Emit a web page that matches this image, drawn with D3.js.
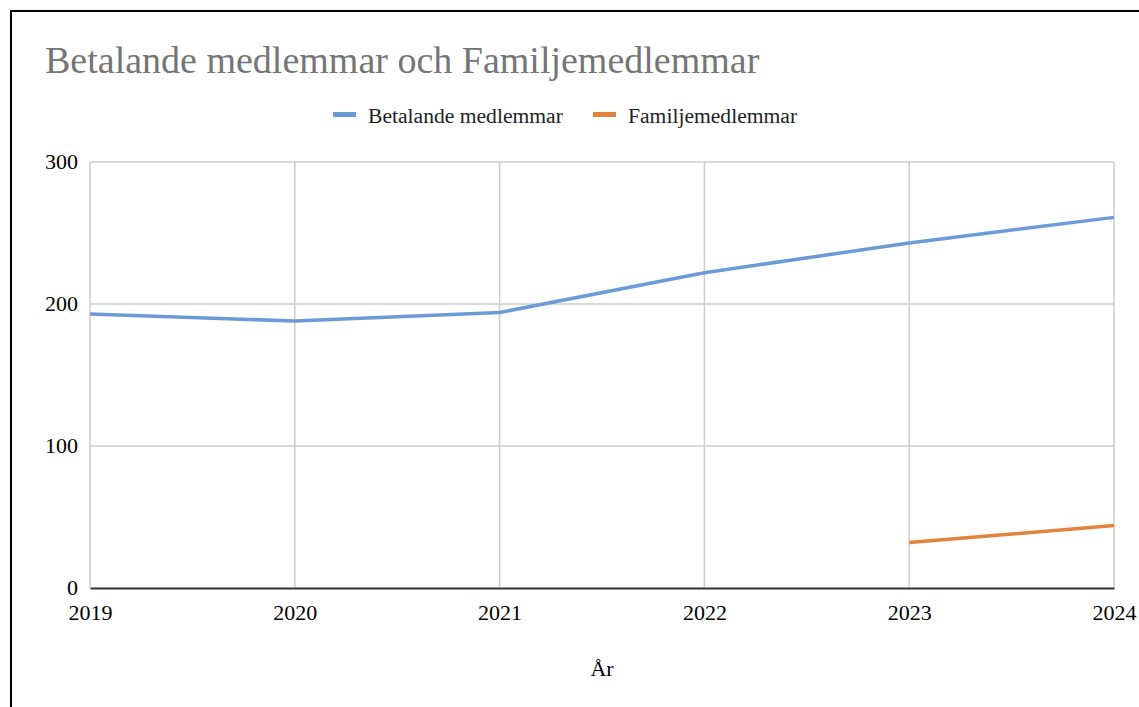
<!DOCTYPE html>
<html>
<head>
<meta charset="utf-8">
<script src="https://cdn.jsdelivr.net/npm/d3@7"></script>
<style>
  body { margin: 0; background: #fff; }
  svg { display: block; }
  text { font-family: "Liberation Serif", "Times New Roman", serif; }
</style>
</head>
<body>
<div id="chart"></div>
<script>
var svgWidth = 1139;
var svgHeight = 707;

var margin = {
  top: 162,
  right: 25,
  bottom: 119,
  left: 90
};

var width = svgWidth - margin.left - margin.right;
var height = svgHeight - margin.top - margin.bottom;

// data
var years = [2019, 2020, 2021, 2022, 2023, 2024];
var betalande = [193, 188, 194, 222, 243, 261];
var familje = [null, null, null, null, 32, 44];
var yTicks = [0, 100, 200, 300];

var seriesNames = ["Betalande medlemmar", "Familjemedlemmar"];
var seriesColors = ["#6b9bd7", "#e2823b"];

var svg = d3
  .select("#chart")
  .append("svg")
  .attr("width", svgWidth)
  .attr("height", svgHeight);

// outer frame (cut off at right and bottom in the screenshot)
svg.append("rect")
  .attr("x", 11)
  .attr("y", 11)
  .attr("width", 1300)
  .attr("height", 900)
  .attr("fill", "none")
  .attr("stroke", "#000")
  .attr("stroke-width", 2);

// title
svg.append("text")
  .attr("x", 45)
  .attr("y", 73)
  .attr("fill", "#757575")
  .style("font-size", "38px")
  .text("Betalande medlemmar och Familjemedlemmar");

// legend
var legendItems = [
  { name: seriesNames[0], color: seriesColors[0], x: 333 },
  { name: seriesNames[1], color: seriesColors[1], x: 593 }
];

var legend = svg.append("g");

legend.selectAll("rect")
  .data(legendItems)
  .enter()
  .append("rect")
  .attr("x", d => d.x)
  .attr("y", 112)
  .attr("width", 23)
  .attr("height", 5)
  .attr("fill", d => d.color);

legend.selectAll("text")
  .data(legendItems)
  .enter()
  .append("text")
  .attr("x", d => d.x + 35)
  .attr("y", 123)
  .attr("fill", "#222")
  .style("font-size", "21.6px")
  .text(d => d.name);

var chartGroup = svg.append("g")
  .attr("transform", `translate(${margin.left}, ${margin.top})`);

var xScale = d3.scaleLinear()
  .domain([d3.min(years), d3.max(years)])
  .range([0, width]);

var yScale = d3.scaleLinear()
  .domain([0, 300])
  .range([height, 0]);

// grid lines
chartGroup.append("g")
  .selectAll("line")
  .data(years)
  .enter()
  .append("line")
  .attr("x1", d => xScale(d))
  .attr("x2", d => xScale(d))
  .attr("y1", 0)
  .attr("y2", height)
  .attr("stroke", "#cccccc")
  .attr("stroke-width", 1.5);

chartGroup.append("g")
  .selectAll("line")
  .data(yTicks.filter(d => d > 0))
  .enter()
  .append("line")
  .attr("x1", 0)
  .attr("x2", width)
  .attr("y1", d => yScale(d))
  .attr("y2", d => yScale(d))
  .attr("stroke", "#cccccc")
  .attr("stroke-width", 1.5);

// x axis
var bottomAxis = d3.axisBottom(xScale)
  .tickValues(years)
  .tickFormat(d3.format("d"))
  .tickSize(0)
  .tickPadding(16);

var xAxis = chartGroup.append("g")
  .attr("transform", `translate(0, ${height})`)
  .call(bottomAxis);

xAxis.select(".domain")
  .attr("stroke", "#333")
  .attr("stroke-width", 2);

xAxis.selectAll("text")
  .attr("fill", "#000")
  .style("font-family", "'Liberation Serif', serif")
  .style("font-size", "22px");

// y axis
var leftAxis = d3.axisLeft(yScale)
  .tickValues(yTicks)
  .tickSize(0)
  .tickPadding(12);

var yAxis = chartGroup.append("g")
  .call(leftAxis);

yAxis.select(".domain").remove();

yAxis.selectAll("text")
  .attr("fill", "#000")
  .attr("dy", "0.3em")
  .style("font-family", "'Liberation Serif', serif")
  .style("font-size", "22px");

// lines
var lineGen = d3.line()
  .defined(d => d.value !== null)
  .x(d => xScale(d.year))
  .y(d => yScale(d.value));

var seriesData = [betalande, familje].map(function(values, i) {
  return {
    color: seriesColors[i],
    points: years.map((y, j) => ({ year: y, value: values[j] }))
  };
});

chartGroup.selectAll(".series")
  .data(seriesData)
  .enter()
  .append("path")
  .attr("class", "series")
  .attr("d", d => lineGen(d.points))
  .attr("fill", "none")
  .attr("stroke", d => d.color)
  .attr("stroke-width", 3.5)
  .attr("stroke-linejoin", "round");

// x axis title
svg.append("text")
  .attr("x", 602)
  .attr("y", 676)
  .attr("text-anchor", "middle")
  .attr("fill", "#000")
  .style("font-size", "22px")
  .text("År");
</script>
</body>
</html>
